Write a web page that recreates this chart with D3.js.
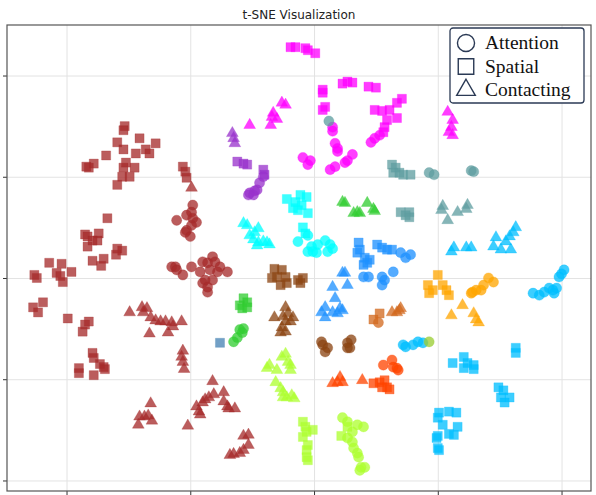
<!DOCTYPE html>
<html>
<head>
<meta charset="utf-8">
<script src="https://cdn.jsdelivr.net/npm/d3@7"></script>
<style>
  body { margin: 0; background: #fff; }
</style>
</head>
<body>
<div id="chart"></div>
<script>
// t-SNE coordinates, one array per cluster colour and marker type
const redSpatial = [[-153,150],[-154,146],[-159,134],[-141,138],[-154,127],[-136,127],[-128,133],[-133,123],[-144,123],[-168,121],
  [-178,113],[-184,110],[-182,109],[-154,109],[-152,114],[-145,109],[-155,100],[-149,100],[-159,92],[-106,110],[-104,105],[-103,99],
  [-167,59],[-185,43],[-183,41],[-174,44],[-175,37],[-179,37],[-183,31],[-159,29],[-155,27],[-160,23],[-170,19],[-179,17],[-172,12],
  [-214,15],[-204,14],[-196,6],[-208,5],[-205,2],[-203,-4],[-226,3],[-224,0],[-219,-24],[-227,-29],[-223,-34],[-199,-40],[-185,-46],
  [-182,-43],[-187,-53],[-179,-74],[-178,-79],[-173,-85],[-170,-88],[-169,-90],[-190,-89],[-190,-94],[-178,-96]];
const redAttention = [[-98,72],[-99,65],[-103,62],[-111,57],[-98,59],[-95,55],[-99,52],[-103,47],[-100,41],[-104,45],
  [-115,11],[-112,11],[-111,8],[-106,3],[-99,11],[-90,16],[-82,21],[-80,16],[-86,15],[-76,11],[-92,6],[-84,8],[-78,6],[-70,6],
  [-88,-2],[-82,-2],[-90,-5],[-86,-9],[-86,-14]];
const redContacting = [[-99,89],[-149,-34],[-139,-29],[-135,-30],[-138,-34],[-132,-39],[-128,-42],[-124,-43],[-120,-43],[-115,-44],
  [-107,-43],[-114,-48],[-133,-55],[-118,-54],[-106,-72],[-107,-78],[-106,-83],[-105,-90],[-132,-124],[-141,-137],[-137,-137],
  [-134,-136],[-131,-141],[-142,-145],[-102,-146],[-95,-127],[-93,-132],[-82,-102],[-88,-120],[-85,-118],[-81,-115],[-90,-123],
  [-73,-113],[-73,-122],[-70,-127],[-69,-129],[-64,-129],[-92,-135],[-57,-156],[-53,-155],[-53,-165],[-57,-170],[-60,-173],
  [-65,-174],[-68,-175]];

const purpleSpatial = [[-62,115],[-57,113],[-54,112],[-41,107],[-40,102]];
const purpleAttention = [[-52,84],[-49,82],[-46,87],[-44,94],[-41,100],[-48,86],[-53,82]];
const purpleContacting = [[-66,143],[-65,138],[-64,133]];

const magentaSpatial = [[-19,228],[-15,228],[-7,227],[-5,225],[1,222],[7,186],[7,183],[23,192],[27,194],[31,193],[44,189],[50,188],
  [9,169],[7,166],[49,166],[55,165],[61,166],[71,177],[67,173],[67,158],[59,156],[57,149],[56,144]];
const magentaAttention = [[15,149],[15,145],[17,133],[19,128],[19,125],[31,122],[27,116],[25,114],[17,110],[13,107],
  [-9,119],[-3,116],[-5,112],[53,141],[49,138],[46,134]];
const magentaContacting = [[-26,173],[-23,171],[-33,163],[-34,159],[-30,157],[-35,151],[-52,151],
  [108,164],[112,156],[111,149],[112,141],[109,144]];

const tealAttention = [[12,155],[93,104],[97,102],[127,106],[129,105]];
const tealSpatial = [[63,112],[64,104],[66,109],[69,104],[72,102],[78,102],[70,65],[77,65],[77,60],[74,62]];
const tealContacting = [[104,71],[103,67],[116,65],[124,72],[123,68],[108,57]];

const cyanSpatial = [[-22,78],[-11,82],[-6,80],[-15,75],[-10,72],[-17,69],[-13,67],[-5,64],[-9,50],[-7,44]];
const cyanAttention = [[-13,36],[-5,42],[-2,31],[-1,26],[3,33],[9,37],[13,33],[15,29],[11,26],[-5,26],[2,25]];
const cyanContacting = [[-57,54],[-54,52],[-45,49],[-48,45],[-52,42],[-49,38],[-45,35],[-41,36],[-38,35],[-36,33],[-46,32]];

const greenSpatial = [[-57,-20],[-54,-24],[-60,-27],[-58,-30],[-54,-29]];
const greenAttention = [[-60,-51],[-57,-50],[-62,-59],[-65,-63],[-58,-54]];
const greenContacting = [[23,75],[25,74],[43,74],[35,65],[32,64],[37,64],[48,68],[49,66]];

const steelSpatial = [[-76,-64]];

const brownSpatial = [[-32,9],[-26,8],[-34,0],[-30,1],[-23,1],[-27,-7],[-22,-5],[-13,-2],[-11,-5],[-9,0]];
const brownContacting = [[-23,-29],[-21,-35],[-25,-38],[-17,-39],[-32,-39],[-19,-43],[-23,-43],[-26,-49],[-27,-54],[-23,-53]];
const brownAttention = [[7,-66],[11,-69],[9,-73],[6,-63],[27,-64],[29,-69],[27,-69],[30,-61]];

const blueSpatial = [[36,35],[37,28],[35,25],[41,20],[45,18],[43,15],[40,13],[51,33],[55,30],[59,28],[63,28]];
const blueAttention = [[40,1],[44,1],[55,1],[57,-2],[55,-7],[64,6],[70,25],[74,20],[78,23]];
const blueContacting = [[15,-9],[23,5],[25,5],[27,-7],[17,-20],[9,-29],[6,-34],[9,-39],[15,-34],[21,-30],[23,-32],[19,-35]];

const chocSpatial = [[48,-41],[53,-35]];
const chocAttention = [[52,-44]];
const chocContacting = [[63,-34],[67,-34],[69,-32],[70,-30]];

const redOrangeContacting = [[21,-98],[19,-103],[15,-104],[23,-103],[39,-101]];
const redOrangeSpatial = [[48,-104],[53,-103],[57,-101],[59,-108],[61,-110],[55,-108]];
const redOrangeAttention = [[56,-86],[63,-81],[64,-88],[67,-89],[68,-91]];

const orangeSpatial = [[92,-7],[100,3],[96,-12],[104,-7],[107,-12],[109,-17],[93,-15]];
const orangeAttention = [[128,-14],[131,-12],[135,-12],[137,-7],[141,0],[145,-4],[127,-15]];
const orangeContacting = [[120,-27],[111,-37],[129,-35],[131,-41],[133,-44]];

const skyContacting = [[113,30],[111,26],[123,30],[127,30],[147,40],[145,31],[151,28],[155,36],[158,41],[161,45],[163,50],[159,28]];
const skyAttention = [[177,-15],[182,-17],[186,-14],[190,-10],[194,-15],[198,1],[202,8],[196,-10],[193,-12],[200,4],
  [72,-66],[74,-68],[80,-66],[84,-63],[88,-64]];
const skySpatial = [[112,-84],[121,-78],[124,-84],[121,-89],[129,-86],[129,-90],[163,-69],[163,-74],
  [149,-108],[153,-111],[151,-118],[158,-118],[154,-123],[101,-133],[109,-132],[115,-133],[100,-138],[104,-145],
  [116,-147],[109,-154],[113,-155],[100,-156],[99,-158],[100,-168],[101,-170]];

const yellowGreenAttention = [[93,-63]];

const limeContacting = [[-36,-86],[-38,-89],[-26,-78],[-23,-75],[-21,-83],[-19,-86],[-30,-91],[-19,-91],[-31,-103],[-27,-109],
  [-25,-113],[-22,-118],[-18,-116],[-16,-119],[-25,-118]];
const limeSpatial = [[-9,-142],[-7,-147],[-1,-150],[-6,-152],[-9,-157],[-5,-165],[-6,-170],[-6,-177],[-5,-180],[22,-156],[27,-147]];
const limeAttention = [[23,-138],[27,-142],[35,-145],[40,-147],[31,-152],[27,-158],[31,-162],[32,-168],[35,-173],[36,-177],
  [38,-187],[41,-187],[37,-190]];

const xTicks = [-200, -100, 0, 100, 200];
const yTicks = [-200, -100, 0, 100, 200];
const legendLabels = ["Attention", "Spatial", "Contacting"];

const series = [
  { pts: redSpatial, color: "#a52a2a", shape: "Spatial" },
  { pts: redAttention, color: "#a52a2a", shape: "Attention" },
  { pts: redContacting, color: "#a52a2a", shape: "Contacting" },
  { pts: purpleSpatial, color: "#9932cc", shape: "Spatial" },
  { pts: purpleAttention, color: "#9932cc", shape: "Attention" },
  { pts: purpleContacting, color: "#9932cc", shape: "Contacting" },
  { pts: magentaSpatial, color: "#ff00ff", shape: "Spatial" },
  { pts: magentaAttention, color: "#ff00ff", shape: "Attention" },
  { pts: magentaContacting, color: "#ff00ff", shape: "Contacting" },
  { pts: tealAttention, color: "#5f9ea0", shape: "Attention" },
  { pts: tealSpatial, color: "#5f9ea0", shape: "Spatial" },
  { pts: tealContacting, color: "#5f9ea0", shape: "Contacting" },
  { pts: cyanSpatial, color: "#00ffff", shape: "Spatial" },
  { pts: cyanAttention, color: "#00ffff", shape: "Attention" },
  { pts: cyanContacting, color: "#00ffff", shape: "Contacting" },
  { pts: greenSpatial, color: "#32cd32", shape: "Spatial" },
  { pts: greenAttention, color: "#32cd32", shape: "Attention" },
  { pts: greenContacting, color: "#32cd32", shape: "Contacting" },
  { pts: steelSpatial, color: "#4682b4", shape: "Spatial" },
  { pts: brownSpatial, color: "#8b4513", shape: "Spatial" },
  { pts: brownContacting, color: "#8b4513", shape: "Contacting" },
  { pts: brownAttention, color: "#8b4513", shape: "Attention" },
  { pts: blueSpatial, color: "#1e90ff", shape: "Spatial" },
  { pts: blueAttention, color: "#1e90ff", shape: "Attention" },
  { pts: blueContacting, color: "#1e90ff", shape: "Contacting" },
  { pts: chocSpatial, color: "#d2691e", shape: "Spatial" },
  { pts: chocAttention, color: "#d2691e", shape: "Attention" },
  { pts: chocContacting, color: "#d2691e", shape: "Contacting" },
  { pts: redOrangeContacting, color: "#ff4500", shape: "Contacting" },
  { pts: redOrangeSpatial, color: "#ff4500", shape: "Spatial" },
  { pts: redOrangeAttention, color: "#ff4500", shape: "Attention" },
  { pts: orangeSpatial, color: "#ffa500", shape: "Spatial" },
  { pts: orangeAttention, color: "#ffa500", shape: "Attention" },
  { pts: orangeContacting, color: "#ffa500", shape: "Contacting" },
  { pts: skyContacting, color: "#00bfff", shape: "Contacting" },
  { pts: skyAttention, color: "#00bfff", shape: "Attention" },
  { pts: skySpatial, color: "#00bfff", shape: "Spatial" },
  { pts: yellowGreenAttention, color: "#9acd32", shape: "Attention" },
  { pts: limeContacting, color: "#adff2f", shape: "Contacting" },
  { pts: limeSpatial, color: "#adff2f", shape: "Spatial" },
  { pts: limeAttention, color: "#adff2f", shape: "Attention" }
];

const W = 596, H = 495;
const frame = { left: 7, right: 591, top: 25, bottom: 491 };

const svg = d3.select("#chart").append("svg")
  .attr("width", W)
  .attr("height", H)
  .style("font-family", "'DejaVu Sans', sans-serif");

const x = d3.scaleLinear().domain([-248.1, 223.8]).range([frame.left, frame.right]);
const y = d3.scaleLinear().domain([-210.4, 249.9]).range([frame.bottom, frame.top]);

// grid
svg.append("g")
  .attr("transform", `translate(0,${frame.bottom})`)
  .call(d3.axisBottom(x).tickValues(xTicks).tickFormat("").tickSize(-(frame.bottom - frame.top)))
  .call(g => g.select(".domain").remove())
  .call(g => g.selectAll("line").attr("stroke", "#e3e3e3").attr("stroke-width", 1));
svg.append("g")
  .attr("transform", `translate(${frame.left},0)`)
  .call(d3.axisLeft(y).tickValues(yTicks).tickFormat("").tickSize(-(frame.right - frame.left)))
  .call(g => g.select(".domain").remove())
  .call(g => g.selectAll("line").attr("stroke", "#e3e3e3").attr("stroke-width", 1));

// points
const shapeType = { Attention: d3.symbolCircle, Spatial: d3.symbolSquare, Contacting: d3.symbolTriangle };
const shapeSize = { Attention: 82, Spatial: 82, Contacting: 60 };

series.forEach(s => {
  svg.append("g")
    .selectAll("path")
    .data(s.pts)
    .join("path")
    .attr("transform", d => `translate(${x(d[0])},${y(d[1])})`)
    .attr("d", d3.symbol().type(shapeType[s.shape]).size(shapeSize[s.shape]))
    .attr("fill", s.color)
    .attr("fill-opacity", 0.76)
    .attr("stroke", s.color)
    .attr("stroke-opacity", 0.35)
    .attr("stroke-width", 0.8);
});

// frame and tick marks
svg.append("g")
  .attr("transform", `translate(0,${frame.bottom})`)
  .call(d3.axisBottom(x).tickValues(xTicks).tickFormat("").tickSize(4).tickSizeOuter(0))
  .call(g => g.select(".domain").remove())
  .call(g => g.selectAll("line").attr("stroke", "#333"));
svg.append("g")
  .attr("transform", `translate(${frame.left},0)`)
  .call(d3.axisLeft(y).tickValues(yTicks).tickFormat("").tickSize(4).tickSizeOuter(0))
  .call(g => g.select(".domain").remove())
  .call(g => g.selectAll("line").attr("stroke", "#333"));

svg.append("rect")
  .attr("x", frame.left)
  .attr("y", frame.top)
  .attr("width", frame.right - frame.left)
  .attr("height", frame.bottom - frame.top)
  .attr("fill", "none")
  .attr("stroke", "#555")
  .attr("stroke-width", 1.2);

svg.append("text")
  .attr("x", (frame.left + frame.right) / 2)
  .attr("y", 19)
  .attr("text-anchor", "middle")
  .style("font-size", "12px")
  .attr("fill", "#222")
  .text("t-SNE Visualization");

// legend
const legend = svg.append("g").attr("transform", "translate(450,28)");
legend.append("rect")
  .attr("width", 134)
  .attr("height", 75)
  .attr("rx", 3)
  .attr("fill", "#fff")
  .attr("stroke", "#2b3a55")
  .attr("stroke-width", 1.3);

legendLabels.forEach((label, i) => {
  const row = legend.append("g").attr("transform", `translate(16,${15 + i * 23.5})`);
  row.append("path")
    .attr("d", d3.symbol().type(shapeType[label]).size(label === "Contacting" ? 150 : (label === "Spatial" ? 240 : 230)))
    .attr("fill", "none")
    .attr("stroke", "#2b3a55")
    .attr("stroke-width", 1.4);
  row.append("text")
    .attr("x", 19)
    .attr("y", 6)
    .style("font-family", "'Liberation Serif', 'Times New Roman', serif")
    .style("font-size", "19.5px")
    .attr("fill", "#111")
    .text(label);
});
</script>
</body>
</html>
